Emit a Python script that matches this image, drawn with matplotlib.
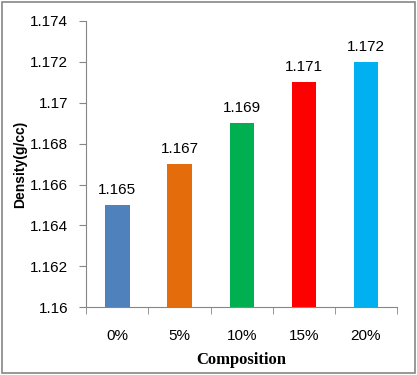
import matplotlib.pyplot as plt
from matplotlib.patches import Rectangle

categories = ['0%', '5%', '10%', '15%', '20%']
density = [1.165, 1.167, 1.169, 1.171, 1.172]
colors = ['#4F81BD', '#E46C0A', '#00B050', '#FF0000', '#00B0F0']
yticks = [1.16, 1.162, 1.164, 1.166, 1.168, 1.17, 1.172, 1.174]
ytick_labels = ['1.16', '1.162', '1.164', '1.166', '1.168', '1.17', '1.172', '1.174']

plt.rcParams['font.family'] = ['Liberation Sans', 'DejaVu Sans']

fig = plt.figure(figsize=(4.17, 3.75), dpi=100)
ax = fig.add_axes([0.207, 0.181, 0.745, 0.763])

x = range(len(categories))
bars = ax.bar(x, [d - 1.16 for d in density], bottom=1.16, width=0.39, color=colors)
for xi, d in zip(x, density):
    ax.text(xi, d + 0.0004, '%.3f' % d, ha='center', va='bottom', fontsize=11)

ax.set_xlim(-0.5, len(categories) - 0.5)
ax.set_ylim(1.16, 1.174)
ax.set_yticks(yticks)
ax.set_yticklabels(ytick_labels, fontsize=11)
ax.set_xticks(x)
ax.set_xticklabels(categories, fontsize=11)
ax.tick_params(axis='x', length=0, pad=16)
ax.tick_params(axis='y', length=5, color='#868686', pad=8)
# category separators below the x axis
ax.set_xticks([i - 0.5 for i in range(len(categories) + 1)], minor=True)
ax.tick_params(axis='x', which='minor', length=5, color='#868686')

for side in ['top', 'right']:
    ax.spines[side].set_visible(False)
for side in ['left', 'bottom']:
    ax.spines[side].set_color('#868686')

ax.set_xlabel('Composition', fontsize=12, fontweight='bold', family='Liberation Serif')
ax.xaxis.set_label_coords(0.5, -0.158)
ax.set_ylabel('Density(g/cc)', fontsize=10, fontweight='bold')
ax.yaxis.set_label_coords(-0.19, 0.5)

# outer chart border
fig.patches.append(Rectangle((0.004, 0.006), 0.991, 0.988, transform=fig.transFigure,
                             fill=False, edgecolor='#868686', linewidth=1.2))

fig.savefig('out.png', dpi=100)
